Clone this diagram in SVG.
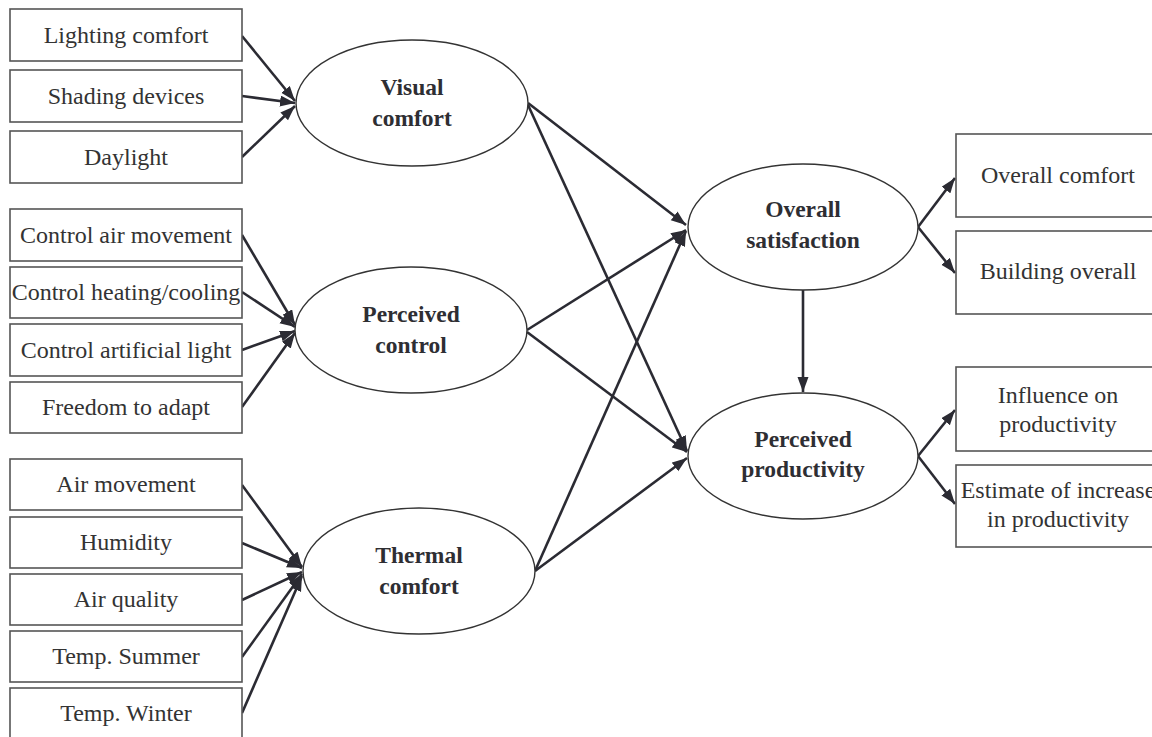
<svg xmlns="http://www.w3.org/2000/svg" width="1152" height="737" viewBox="0 0 1152 737">
<style>
.box{fill:#fff;stroke:#555;stroke-width:1.6}
.ell{fill:#fff;stroke:#333;stroke-width:1.4}
.t{font-family:"Liberation Serif","Times New Roman",serif;font-size:24px;fill:#333;text-anchor:middle}
.b{font-family:"Liberation Serif","Times New Roman",serif;font-size:23.5px;font-weight:bold;fill:#2e2e33;text-anchor:middle}
.a{stroke:#2b2b33;stroke-width:2.6;fill:none;marker-end:url(#ah)}
</style>
<defs>
<marker id="ah" markerUnits="userSpaceOnUse" markerWidth="16" markerHeight="12" refX="15" refY="5.5" orient="auto">
<path d="M0,0 L15,5.5 L0,11 z" fill="#2b2b33"/>
</marker>
</defs>
<rect width="1152" height="737" fill="#fff"/>
<g id="connectors">
<line class="a" x1="242" y1="36" x2="295" y2="101"/>
<line class="a" x1="242" y1="96" x2="295" y2="103"/>
<line class="a" x1="242" y1="157" x2="295" y2="106"/>
<line class="a" x1="242" y1="235" x2="295" y2="325"/>
<line class="a" x1="242" y1="292" x2="295" y2="327"/>
<line class="a" x1="242" y1="350" x2="295" y2="331"/>
<line class="a" x1="242" y1="407" x2="295" y2="333"/>
<line class="a" x1="242" y1="485" x2="302" y2="567"/>
<line class="a" x1="242" y1="543" x2="302" y2="568"/>
<line class="a" x1="242" y1="600" x2="302" y2="572"/>
<line class="a" x1="242" y1="657" x2="302" y2="574"/>
<line class="a" x1="242" y1="713" x2="302" y2="576"/>
<line class="a" x1="528" y1="103" x2="686" y2="225"/>
<line class="a" x1="528" y1="105" x2="687" y2="451"/>
<line class="a" x1="527" y1="330" x2="686" y2="230"/>
<line class="a" x1="527" y1="332" x2="687" y2="452"/>
<line class="a" x1="535" y1="571" x2="686" y2="231"/>
<line class="a" x1="535" y1="571" x2="687" y2="458"/>
<line class="a" x1="803" y1="290" x2="803" y2="392"/>
<line class="a" x1="918" y1="227" x2="955" y2="178"/>
<line class="a" x1="918" y1="227" x2="955" y2="273"/>
<line class="a" x1="918" y1="456" x2="955" y2="410"/>
<line class="a" x1="918" y1="456" x2="955" y2="504"/>
</g>
<g id="n-lighting"><rect class="box" x="10" y="9" width="232" height="52"/><text class="t" x="126" y="43">Lighting comfort</text></g>
<g id="n-shading"><rect class="box" x="10" y="70" width="232" height="52"/><text class="t" x="126" y="104">Shading devices</text></g>
<g id="n-daylight"><rect class="box" x="10" y="131" width="232" height="52"/><text class="t" x="126" y="165">Daylight</text></g>
<g id="n-ctrl-air"><rect class="box" x="10" y="209" width="232" height="52"/><text class="t" x="126" y="243">Control air movement</text></g>
<g id="n-ctrl-heat"><rect class="box" x="10" y="267" width="232" height="51"/><text class="t" x="126" y="300">Control heating/cooling</text></g>
<g id="n-ctrl-light"><rect class="box" x="10" y="324" width="232" height="52"/><text class="t" x="126" y="358">Control artificial light</text></g>
<g id="n-freedom"><rect class="box" x="10" y="382" width="232" height="51"/><text class="t" x="126" y="415">Freedom to adapt</text></g>
<g id="n-airmove"><rect class="box" x="10" y="459" width="232" height="51"/><text class="t" x="126" y="492">Air movement</text></g>
<g id="n-humidity"><rect class="box" x="10" y="517" width="232" height="51"/><text class="t" x="126" y="550">Humidity</text></g>
<g id="n-airq"><rect class="box" x="10" y="574" width="232" height="51"/><text class="t" x="126" y="607">Air quality</text></g>
<g id="n-summer"><rect class="box" x="10" y="631" width="232" height="51"/><text class="t" x="126" y="664">Temp. Summer</text></g>
<g id="n-winter"><rect class="box" x="10" y="688" width="232" height="60"/><text class="t" x="126" y="721">Temp. Winter</text></g>
<g id="n-visual"><ellipse class="ell" cx="412" cy="103" rx="116" ry="63"/><text class="b" x="412" y="95">Visual</text><text class="b" x="412" y="126">comfort</text></g>
<g id="n-control"><ellipse class="ell" cx="411" cy="330" rx="116" ry="63"/><text class="b" x="411" y="322">Perceived</text><text class="b" x="411" y="353">control</text></g>
<g id="n-thermal"><ellipse class="ell" cx="419" cy="571" rx="116" ry="63"/><text class="b" x="419" y="563">Thermal</text><text class="b" x="419" y="594">comfort</text></g>
<g id="n-satisfaction"><ellipse class="ell" cx="803" cy="227" rx="115" ry="63"/><text class="b" x="803" y="217">Overall</text><text class="b" x="803" y="248">satisfaction</text></g>
<g id="n-productivity"><ellipse class="ell" cx="803" cy="456" rx="115" ry="63"/><text class="b" x="803" y="447">Perceived</text><text class="b" x="803" y="477">productivity</text></g>
<g id="n-overall-comfort"><rect class="box" x="956" y="134" width="210" height="83"/><text class="t" x="1058" y="183">Overall comfort</text></g>
<g id="n-building"><rect class="box" x="956" y="231" width="210" height="83"/><text class="t" x="1058" y="279">Building overall</text></g>
<g id="n-influence"><rect class="box" x="956" y="367" width="210" height="84"/><text class="t" x="1058" y="403">Influence on</text><text class="t" x="1058" y="432">productivity</text></g>
<g id="n-estimate"><rect class="box" x="956" y="465" width="210" height="82"/><text class="t" x="1058" y="498">Estimate of increase</text><text class="t" x="1058" y="527">in productivity</text></g>
</svg>
